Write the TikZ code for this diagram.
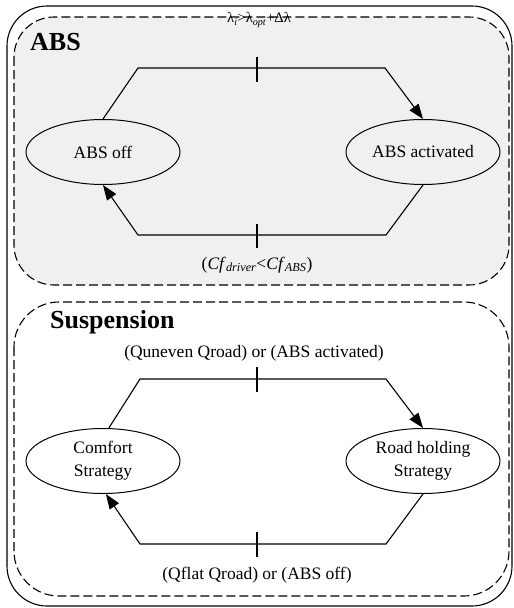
\documentclass[tikz,border=0pt]{standalone}
\usepackage{fontspec}
\setmainfont{Liberation Serif}
\usetikzlibrary{arrows.meta,shapes.geometric}
\begin{document}
\begin{tikzpicture}[x=1pt,y=-1pt,
  frame/.style={line width=1.1pt,rounded corners=40pt},
  dframe/.style={line width=1.1pt,dash pattern=on 9pt off 4pt,rounded corners=40pt},
  state/.style={ellipse,draw,line width=1pt,minimum width=154pt,minimum height=65pt,inner sep=0pt,align=center,
    font=\fontsize{17.5}{23}\selectfont},
  trans/.style={line width=1.1pt},
  arr/.style={trans,-{Triangle[length=15pt,width=11pt]}},
  tick/.style={line width=1.1pt},
  lbl/.style={font=\fontsize{17.5}{21}\selectfont,inner sep=0pt},
  title/.style={font=\fontsize{26}{28}\selectfont\bfseries,inner sep=0pt,anchor=west}]
\path[use as bounding box] (0,0) rectangle (514,608);
% frames
\draw[frame] (7,6) rectangle (512,606);
\draw[dframe,fill=black!6] (14,17) rectangle (509,285);
\draw[dframe,rounded corners=45pt] (14,302) rectangle (509,596);
% titles
\node[title] (tabs) at (30,42) {ABS};
\node[title] (tsusp) at (50,322) {Suspension};
% ABS states
\node[state] (off) at (103,152) {ABS off};
\node[state] (act) at (423,152) {ABS activated};
\coordinate (a1) at (138,68);
\coordinate (a2) at (385,68);
\coordinate (a3) at (386,235);
\coordinate (a4) at (138,235);
\draw[arr] (off.north) -- (a1) -- (a2) -- (act.north);
\draw[arr] (act.south) -- (a3) -- (a4) -- (off.south);
\coordinate (t1a) at (257,57); \coordinate (t1b) at (257,82);
\coordinate (t2a) at (257,224); \coordinate (t2b) at (257,248);
\draw[tick] (t1a) -- (t1b);
\draw[tick] (t2a) -- (t2b);
\node[lbl,font=\fontsize{14.5}{18}\selectfont] (labtop) at (259,20) {λ\textsubscript{\itshape i}>λ\textsubscript{\itshape opt}+Δλ};
\node[lbl] (labbot) at (257,265) {(\textit{Cf}\textsubscript{\itshape driver}<\textit{Cf}\textsubscript{\itshape ABS})};
% Suspension states
\node[state] (comf) at (103,461) {Comfort\\Strategy};
\node[state] (road) at (423,461) {Road holding\\Strategy};
\coordinate (s1) at (140,379);
\coordinate (s2) at (386,379);
\coordinate (s3) at (386,544);
\coordinate (s4) at (140,544);
\draw[arr] (comf.80) -- (s1) -- (s2) -- (road.north);
\draw[arr] (road.south) -- (s3) -- (s4) -- (comf.-85);
\coordinate (t3a) at (257,367); \coordinate (t3b) at (257,392);
\coordinate (t4a) at (257,532); \coordinate (t4b) at (257,557);
\draw[tick] (t3a) -- (t3b);
\draw[tick] (t4a) -- (t4b);
\node[lbl] (labs1) at (254,353) {(Quneven Qroad) or (ABS activated)};
\node[lbl] (labs2) at (257,575) {(Qflat Qroad) or (ABS off)};
\end{tikzpicture}
\end{document}
